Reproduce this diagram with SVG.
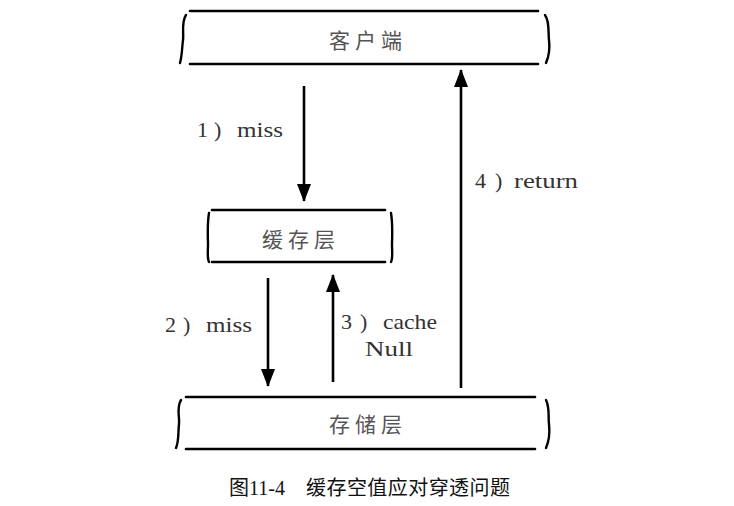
<svg xmlns="http://www.w3.org/2000/svg" width="734" height="506" viewBox="0 0 734 506">
<defs>
<marker id="ah" viewBox="0 0 18 14" refX="17" refY="7" markerWidth="18" markerHeight="14" markerUnits="userSpaceOnUse" orient="auto">
<path d="M0,0 L18,7 L0,14 Z" fill="#000"/>
</marker>
<style>
.edge{stroke:#000;stroke-width:2.6;fill:none}
.line{stroke:#000;stroke-width:2.6;fill:none;stroke-linecap:round}
.brace{stroke:#000;stroke-width:2.4;fill:none;stroke-linecap:round}
.nt{font-family:"Noto Sans CJK SC",sans-serif;font-size:21px;fill:#555;letter-spacing:5px;text-anchor:middle}
.lbl{font-family:"Liberation Serif",serif;font-size:22px;fill:#333}
.cap{font-family:"Liberation Serif","Noto Sans CJK SC",serif;font-size:20px;fill:#111}
</style>
</defs>
<rect width="734" height="506" fill="#fff"/>
<g id="client">
<path class="line" d="M190,11 L538,11"/>
<path class="line" d="M190,64 L538,64"/>
<path class="brace" d="M186,15 C181,22 184,34 183,40 C182,48 182,56 180,63"/>
<path class="brace" d="M545,15 C550,22 548,34 549,40 C550,48 549,56 546,63"/>
<text class="nt" x="368" y="48">客户端</text>
</g>
<g id="cache">
<path class="line" d="M212,210 L385,210"/>
<path class="line" d="M212,262 L385,262"/>
<path class="brace" d="M209,213 C207,225 208,238 208,245 C208,252 207,258 209,262"/>
<path class="brace" d="M391,213 C393,225 392,238 392,245 C392,252 393,258 391,262"/>
<text class="nt" x="301" y="247">缓存层</text>
</g>
<g id="storage">
<path class="line" d="M186,397 L535,397"/>
<path class="line" d="M186,449 L535,449"/>
<path class="brace" d="M181,400 C176,408 180,418 179,424 C178,433 179,441 176,448"/>
<path class="brace" d="M546,400 C550,408 548,418 549,424 C550,433 549,441 546,448"/>
<text class="nt" x="368" y="432">存储层</text>
</g>
<g id="connectors">
<path class="edge" d="M304,86 L304,201" marker-end="url(#ah)"/>
<path class="edge" d="M461,388 L461,70" marker-end="url(#ah)"/>
<path class="edge" d="M268,278 L268,386" marker-end="url(#ah)"/>
<path class="edge" d="M333,382 L333,275" marker-end="url(#ah)"/>
<text class="lbl" x="197" y="137">1<tspan x="214">)</tspan><tspan x="237" textLength="46" lengthAdjust="spacingAndGlyphs">miss</tspan></text>
<text class="lbl" x="475" y="188">4<tspan x="495">)</tspan><tspan x="514" textLength="64" lengthAdjust="spacingAndGlyphs">return</tspan></text>
<text class="lbl" x="165" y="332">2<tspan x="183">)</tspan><tspan x="206" textLength="46" lengthAdjust="spacingAndGlyphs">miss</tspan></text>
<text class="lbl" x="341" y="329">3<tspan x="360">)</tspan><tspan x="383" textLength="54" lengthAdjust="spacingAndGlyphs">cache</tspan></text>
<text class="lbl" x="365" y="356" textLength="48" lengthAdjust="spacingAndGlyphs">Null</text>
</g>
<text class="cap" x="229" y="495">图11-4<tspan x="306" textLength="204">缓存空值应对穿透问题</tspan></text>
</svg>
